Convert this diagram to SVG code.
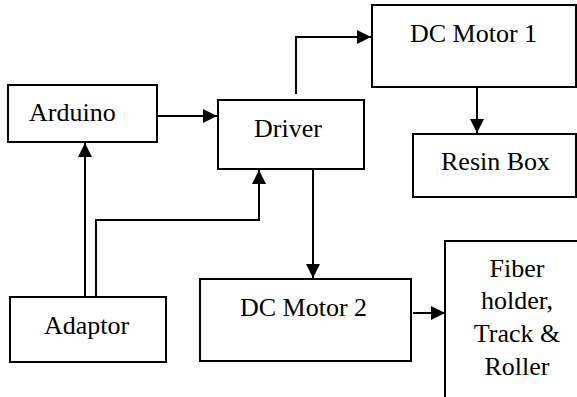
<svg xmlns="http://www.w3.org/2000/svg" width="577" height="397" viewBox="0 0 577 397">
  <style>
    .box { fill: #fff; stroke: #000; stroke-width: 2; }
    .lbl { font-family: "Liberation Serif", "Times New Roman", Times, serif; font-size: 26px; fill: #000; }
    .mid { text-anchor: middle; }
    .wire { fill: none; stroke: #000; stroke-width: 2; }
  </style>
  <defs>
    <marker id="arrow" viewBox="0 0 14 14" refX="14" refY="7" markerWidth="14" markerHeight="14" markerUnits="userSpaceOnUse" orient="auto">
      <path d="M0,0 L14,7 L0,14 Z" fill="#000"/>
    </marker>
  </defs>
  <rect width="577" height="397" fill="#fff"/>

  <g id="arduino">
    <rect class="box" x="8" y="85" width="149" height="57"/>
    <text class="lbl" x="29" y="121">Arduino</text>
  </g>
  <g id="driver">
    <rect class="box" x="218" y="100" width="146" height="69"/>
    <text class="lbl" x="254" y="137">Driver</text>
  </g>
  <g id="dc-motor-1">
    <rect class="box" x="372" y="5" width="204" height="82"/>
    <text class="lbl" x="410" y="42">DC Motor 1</text>
  </g>
  <g id="resin-box">
    <rect class="box" x="413" y="134" width="163" height="63"/>
    <text class="lbl" x="441" y="170">Resin Box</text>
  </g>
  <g id="adaptor">
    <rect class="box" x="10" y="297" width="156" height="65"/>
    <text class="lbl" x="44" y="334">Adaptor</text>
  </g>
  <g id="dc-motor-2">
    <rect class="box" x="200" y="279" width="211" height="82"/>
    <text class="lbl" x="240" y="316">DC Motor 2</text>
  </g>
  <!-- right and bottom sides run past the canvas edge -->
  <g id="fiber-holder">
    <rect class="box" x="445" y="241" width="160" height="180"/>
    <text class="lbl mid" x="517" y="277">Fiber</text>
    <text class="lbl mid" x="517" y="309">holder,</text>
    <text class="lbl mid" x="517" y="342">Track &amp;</text>
    <text class="lbl mid" x="517" y="375">Roller</text>
  </g>

  <g id="connectors">
    <path class="wire" d="M158,116 H217" marker-end="url(#arrow)"/>
    <path class="wire" d="M85,297 V143" marker-end="url(#arrow)"/>
    <path class="wire" d="M96,297 V220 H259 V170" marker-end="url(#arrow)"/>
    <path class="wire" d="M296,94 V37 H371" marker-end="url(#arrow)"/>
    <path class="wire" d="M477,88 V133" marker-end="url(#arrow)"/>
    <path class="wire" d="M313,170 V278" marker-end="url(#arrow)"/>
    <path class="wire" d="M413,313 H445" marker-end="url(#arrow)"/>
  </g>
</svg>
